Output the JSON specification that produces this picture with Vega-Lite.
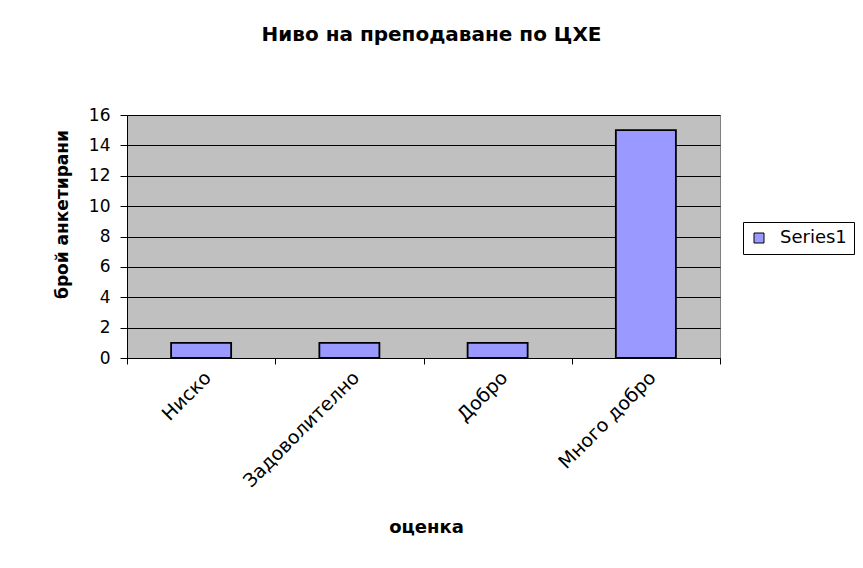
{
  "$schema": "https://vega.github.io/schema/vega-lite/v6.json",
  "width": 593,
  "height": 243,
  "autosize": {"type": "none"},
  "padding": {"left": 127, "top": 115, "right": 143, "bottom": 210},
  "background": "white",
  "config": {
    "font": "DejaVu Sans",
    "view": {"fill": "#C0C0C0", "stroke": "#808080", "strokeWidth": 1}
  },
  "title": {
    "text": "Ниво на преподаване по ЦХЕ",
    "fontSize": 20,
    "fontWeight": "bold",
    "color": "black",
    "anchor": "middle",
    "offset": 61,
    "dx": 8
  },
  "data": {
    "values": [
      {"category": "Ниско", "value": 1, "series": "Series1"},
      {"category": "Задоволително", "value": 1, "series": "Series1"},
      {"category": "Добро", "value": 1, "series": "Series1"},
      {"category": "Много добро", "value": 15, "series": "Series1"}
    ]
  },
  "mark": {"type": "bar", "width": {"band": 0.405}, "stroke": "black", "strokeWidth": 1.8},
  "encoding": {
    "x": {
      "field": "category",
      "type": "nominal",
      "sort": null,
      "scale": {"paddingInner": 0, "paddingOuter": 0},
      "axis": {
        "title": "оценка",
        "titleFontSize": 18,
        "titleFontWeight": "bold",
        "titleColor": "black",
        "titleX": 299,
        "titleY": 169,
        "titleBaseline": "middle",
        "labelAngle": -45,
        "labelFontSize": 19,
        "labelColor": "black",
        "labelPadding": 4,
        "tickBand": "extent",
        "tickColor": "black",
        "tickSize": 6,
        "domainColor": "black",
        "grid": false
      }
    },
    "y": {
      "field": "value",
      "type": "quantitative",
      "scale": {"domain": [0, 16], "nice": false},
      "axis": {
        "title": "брой анкетирани",
        "titleFontSize": 17,
        "titleFontWeight": "bold",
        "titleColor": "black",
        "titleX": -65,
        "titleY": 99,
        "titleAngle": -90,
        "titleAlign": "center",
        "titleBaseline": "middle",
        "values": [0, 2, 4, 6, 8, 10, 12, 14, 16],
        "labelFontSize": 17,
        "labelColor": "black",
        "labelPadding": 10,
        "tickColor": "black",
        "tickSize": 7,
        "domainColor": "black",
        "grid": true,
        "gridColor": "black",
        "gridOpacity": 1,
        "gridWidth": 1
      }
    },
    "fill": {
      "field": "series",
      "type": "nominal",
      "scale": {"domain": ["Series1"], "range": ["#9999FF"]},
      "legend": {
        "title": null,
        "orient": "none",
        "legendX": 616,
        "legendY": 107,
        "strokeColor": "black",
        "fillColor": "white",
        "padding": 7,
        "symbolType": "square",
        "symbolSize": 100,
        "symbolStrokeColor": "black",
        "symbolStrokeWidth": 1,
        "labelOffset": 12,
        "labelFontSize": 18,
        "labelColor": "black"
      }
    }
  }
}
